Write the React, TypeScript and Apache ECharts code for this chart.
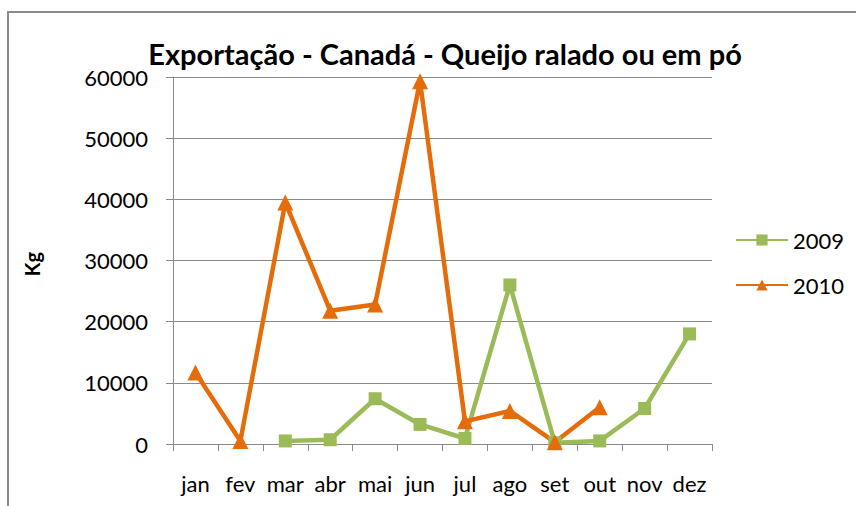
import React, { useEffect, useRef } from "react";
import * as echarts from "echarts";

const months = ["jan", "fev", "mar", "abr", "mai", "jun", "jul", "ago", "set", "out", "nov", "dez"];
const values2009 = [null, null, 500, 700, 7400, 3200, 900, 26000, 200, 500, 5800, 18000];
const values2010 = [11700, 500, 39500, 21800, 22800, 59300, 3700, 5400, 300, 6000, null, null];
const titleText = "Exportação - Canadá - Queijo ralado ou em pó";
const yName = "Kg";

const FONT = "Lato, 'Open Sans', sans-serif";

export default function App() {
  const ref = useRef<HTMLDivElement>(null);
  useEffect(() => {
    if (!ref.current) return;
    const chart = echarts.init(ref.current, null, { renderer: "svg" });
    chart.setOption({
      animation: false,
      backgroundColor: "#ffffff",
      textStyle: { fontFamily: FONT, color: "#000" },
      graphic: [
        {
          type: "rect",
          shape: { x: 8, y: 12, width: 900, height: 600 },
          style: { fill: "none", stroke: "#8a8a8a", lineWidth: 2 },
          silent: true,
        },
        {
          type: "text",
          x: 445,
          y: 53,
          style: {
            text: titleText,
            fontFamily: FONT,
            fontWeight: "bold",
            fontSize: 29,
            fill: "#000",
            textAlign: "center",
            textVerticalAlign: "middle",
          },
        },
        {
          type: "text",
          x: 32,
          y: 264,
          rotation: Math.PI / 2,
          style: {
            text: yName,
            fontFamily: FONT,
            fontWeight: "bold",
            fontSize: 20,
            fill: "#000",
            textAlign: "center",
            textVerticalAlign: "middle",
          },
        },
      ],
      grid: { left: 173, right: 144, top: 77, bottom: 62, containLabel: false },
      legend: {
        orient: "vertical",
        left: 735,
        top: 229,
        padding: 0,
        itemWidth: 52,
        itemHeight: 14,
        itemGap: 23,
        textStyle: { fontFamily: FONT, fontSize: 22, color: "#000" },
        data: ["2009", "2010"],
      },
      xAxis: {
        type: "category",
        data: months,
        boundaryGap: true,
        axisLine: { lineStyle: { color: "#8a8a8a", width: 1 } },
        axisTick: { show: true, length: 7, lineStyle: { color: "#8a8a8a" } },
        axisLabel: { fontFamily: FONT, fontSize: 22, color: "#000", margin: 28, interval: 0 },
      },
      yAxis: {
        type: "value",
        min: 0,
        max: 60000,
        interval: 10000,
        axisLine: { show: true, lineStyle: { color: "#8a8a8a", width: 1 } },
        axisTick: { show: true, length: 7, lineStyle: { color: "#8a8a8a" } },
        axisLabel: {
          fontFamily: FONT,
          fontSize: 22,
          color: "#000",
          margin: 25,
          formatter: (v: number) => String(v),
        },
        splitLine: { show: true, lineStyle: { color: "#8a8a8a", width: 1 } },
      },
      series: [
        {
          name: "2009",
          type: "line",
          data: values2009,
          symbol: "rect",
          symbolSize: 13,
          lineStyle: { color: "#9BBB59", width: 4.5 },
          itemStyle: { color: "#9BBB59" },
          connectNulls: false,
        },
        {
          name: "2010",
          type: "line",
          data: values2010,
          symbol: "triangle",
          symbolSize: 16,
          lineStyle: { color: "#E46C0A", width: 4.5 },
          itemStyle: { color: "#E46C0A" },
          connectNulls: false,
        },
      ],
    });
    return () => chart.dispose();
  }, []);
  return (
    <div
      ref={ref}
      style={{ position: "fixed", left: 0, top: 0, width: 856, height: 506, background: "#fff" }}
    />
  );
}
